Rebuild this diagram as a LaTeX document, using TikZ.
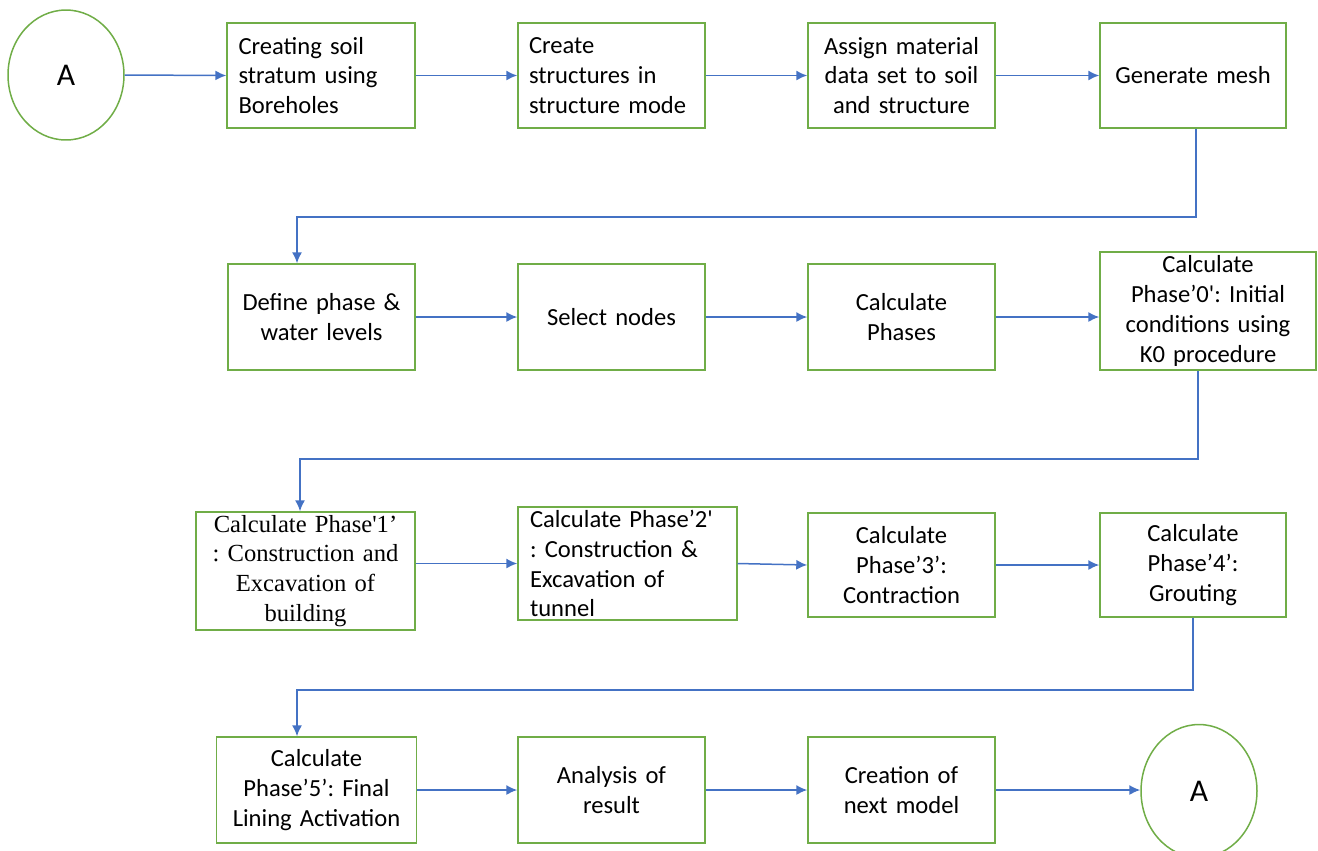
\documentclass[tikz,border=0pt]{standalone}
\usepackage{fontspec}
\setmainfont{Carlito}
\newfontfamily\timesfont{Liberation Serif}
\usetikzlibrary{arrows.meta,positioning,shapes.geometric,calc}
\definecolor{boxgreen}{HTML}{70AD47}
\definecolor{flowblue}{HTML}{4472C4}
\frenchspacing
\tikzset{
  procbox/.style={draw=boxgreen, line width=0.3mm, rectangle, minimum width=3.76cm, minimum height=2.1cm,
    inner xsep=0.2cm, inner ysep=0pt, text width=3.3cm, align=center,
    font=\fontsize{14pt}{17pt}\selectfont},
  termnode/.style={draw=boxgreen, line width=0.3mm, ellipse, minimum width=2.32cm, minimum height=2.6cm,
    inner sep=0pt, font=\fontsize{18pt}{21pt}\selectfont},
  flow/.style={draw=flowblue, line width=0.3mm, -{Latex[length=2.2mm,width=2mm]}},
}
\begin{document}
\begin{tikzpicture}[x=0.02cm, y=-0.02cm]

   \useasboundingbox (0,0) rectangle (1318,850);

   % row 1
   \node[termnode] (a1) at (66,75) {A};
   \node[procbox, align=left] (b1) at (321,75.5) {Creating soil\\ stratum using\\ Boreholes};
   \node[procbox, align=left, minimum width=3.74cm] (b2) at (611.5,75.5) {Create\\ structures in\\ structure mode};
   \node[procbox, minimum width=3.74cm] (b3) at (901.5,75.5) {Assign material\\ data set to soil\\ and structure};
   \node[procbox, minimum width=3.72cm] (b4) at (1193,75.5) {Generate mesh\\[17pt]};

   % row 2
   \node[procbox, minimum width=3.74cm, minimum height=2.12cm] (b5) at (321.5,317) {Define phase \&\\ water levels};
   \node[procbox, minimum width=3.74cm, minimum height=2.12cm] (b6) at (611.5,317) {Select nodes};
   \node[procbox, minimum width=3.74cm, minimum height=2.12cm] (b7) at (901.5,317) {Calculate\\ Phases};
   \node[procbox, minimum width=4.32cm, minimum height=2.36cm, text width=3.9cm] (b8) at (1208,311)
      {Calculate\\ Phase’0\textquotesingle: Initial\\ conditions using\\ K0 procedure};

   % row 3
   \node[procbox, minimum width=4.38cm, minimum height=2.36cm, text width=3.9cm, font=\fontsize{14pt}{17pt}\timesfont] (b9) at (305.5,571)
      {Calculate Phase\textquotesingle1’\\ : Construction and\\ Excavation of\\ building};
   \node[procbox, align=left, minimum width=4.38cm, minimum height=2.26cm, text width=3.9cm] (b10) at (627.5,563.5)
      {Calculate Phase’2\textquotesingle\\ : Construction \&\\ Excavation of\\ tunnel};
   \node[procbox, minimum width=3.74cm, minimum height=2.08cm] (b11) at (901.5,565) {Calculate\\ Phase’3’:\\ Contraction};
   \node[procbox, minimum width=3.72cm, minimum height=2.08cm] (b12) at (1193,565) {Calculate\\ Phase’4’:\\ Grouting};

   % row 4
   \node[procbox, minimum width=3.94cm, minimum height=2.12cm, text width=3.6cm] (b13) at (316.5,790)
      {Calculate\\ Phase’5’: Final\\ Lining Activation};
   \node[procbox, minimum width=3.74cm, minimum height=2.12cm] (b14) at (611.5,790) {Analysis of\\ result};
   \node[procbox, minimum width=3.74cm, minimum height=2.12cm] (b15) at (901.5,790) {Creation of\\ next model};
   \node[termnode, minimum height=2.66cm] (a2) at (1199,791) {A};

   % connectors
   \draw[flow] (a1.east) -- (b1.west);
   \draw[flow] (b1.east) -- (b2.west);
   \draw[flow] (b2.east) -- (b3.west);
   \draw[flow] (b3.east) -- (b4.west);
   \draw[flow] ([xshift=0.06cm]b4.south) -- ++(0,88) -| ([xshift=-0.49cm]b5.north);

   \draw[flow] (b5.east) -- (b6.west);
   \draw[flow] (b6.east) -- (b7.west);
   \draw[flow] (b7.east) -- (b7.east -| b8.west);
   \draw[flow] ([xshift=-0.2cm]b8.south) -- ++(0,88) -| ([xshift=-0.11cm]b9.north);

   \draw[flow] (b9.east |- b10.west) -- (b10.west);
   \draw[flow] (b10.east) -- (b11.west);
   \draw[flow] (b11.east) -- (b12.west);
   \draw[flow] (b12.south) -- ++(0,72) -| ([xshift=-0.39cm]b13.north);

   \draw[flow] (b13.east) -- (b14.west);
   \draw[flow] (b14.east) -- (b15.west);
   \draw[flow] (b15.east) -- (b15.east -| a2.west);

\end{tikzpicture}
\end{document}
